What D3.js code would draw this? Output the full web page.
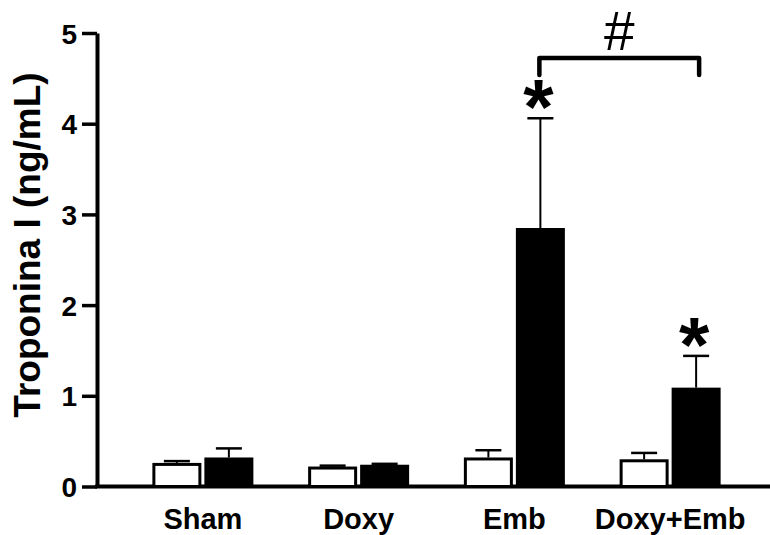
<!DOCTYPE html>
<html>
<head>
<meta charset="utf-8">
<script src="https://cdn.jsdelivr.net/npm/d3@7"></script>
<style>
  body { margin: 0; background: #fff; }
  svg { display: block; font-family: "Liberation Sans", Arial, sans-serif; }
  .axis text { font-weight: bold; fill: #000; font-family: "Liberation Sans", Arial, sans-serif; }
</style>
</head>
<body>
<script>
var width = 770,
    height = 535;

// data
var categories = ['Sham', 'Doxy', 'Emb', 'Doxy+Emb'];
var series = ['open', 'filled'];
var openMeans = [0.26, 0.22, 0.32, 0.30];
var openErrors = [0.02, 0.01, 0.08, 0.07];
var filledMeans = [0.32, 0.24, 2.85, 1.09];
var filledErrors = [0.10, 0.01, 1.21, 0.35];
var yTicks = [0, 1, 2, 3, 4, 5];
var starred = [{ cat: 'Emb', s: 'filled' }, { cat: 'Doxy+Emb', s: 'filled' }];
var bracket = { from: 'Emb', to: 'Doxy+Emb', label: '#' };

var rows = [];
categories.forEach(function(c, i) {
  rows.push({ cat: c, s: 'open', v: openMeans[i], e: openErrors[i] });
  rows.push({ cat: c, s: 'filled', v: filledMeans[i], e: filledErrors[i] });
});

var svg = d3.select('body').append('svg')
    .attr('width', width)
    .attr('height', height);

var axisX = 97;

var x = d3.scaleBand().domain(categories).range([125, 748]);
var xSub = d3.scaleBand().domain(series)
    .range([x.bandwidth() / 2 - 50.5, x.bandwidth() / 2 + 50.5])
    .paddingInner(3 / 52);
var y = d3.scaleLinear().domain([0, 5]).range([486.5, 33]);

// y axis
var yAxis = svg.append('g')
    .attr('class', 'axis')
    .attr('transform', 'translate(' + axisX + ',0)')
    .call(d3.axisLeft(y).tickValues(yTicks).tickFormat(d3.format('d'))
      .tickSize(15).tickSizeOuter(0).tickPadding(5));
yAxis.select('.domain').attr('stroke', '#000').attr('stroke-width', 4);
yAxis.selectAll('.tick line').attr('stroke', '#000').attr('stroke-width', 3.5);
yAxis.selectAll('.tick text').style('font-size', '28px').attr('dy', '0.36em');

// baseline
svg.append('line')
    .attr('x1', axisX - 2).attr('x2', width)
    .attr('y1', y(0)).attr('y2', y(0))
    .attr('stroke', '#000').attr('stroke-width', 4);

// x labels
var xAxis = svg.append('g')
    .attr('class', 'axis')
    .attr('transform', 'translate(0,' + y(0) + ')')
    .call(d3.axisBottom(x).tickSize(0).tickPadding(22));
xAxis.select('.domain').remove();
xAxis.selectAll('.tick text').style('font-size', '29px');

// y title
svg.append('text')
    .attr('transform', 'translate(40,245) rotate(-90)')
    .attr('text-anchor', 'middle')
    .style('font-size', '37px')
    .style('font-weight', 'bold')
    .text('Troponina I (ng/mL)');

function barX(d) { return x(d.cat) + xSub(d.s); }

// error bars (upward only)
var err = svg.selectAll('.err')
    .data(rows)
    .enter().append('g')
    .attr('class', 'err');
err.append('line')
    .attr('x1', function(d) { return barX(d) + xSub.bandwidth() / 2; })
    .attr('x2', function(d) { return barX(d) + xSub.bandwidth() / 2; })
    .attr('y1', function(d) { return y(d.v); })
    .attr('y2', function(d) { return y(d.v + d.e); })
    .attr('stroke', '#000').attr('stroke-width', 2);
err.append('line')
    .attr('x1', function(d) { return barX(d) + xSub.bandwidth() / 2 - 13; })
    .attr('x2', function(d) { return barX(d) + xSub.bandwidth() / 2 + 13; })
    .attr('y1', function(d) { return y(d.v + d.e); })
    .attr('y2', function(d) { return y(d.v + d.e); })
    .attr('stroke', '#000').attr('stroke-width', 2.5);

// bars
svg.selectAll('.bar')
    .data(rows)
    .enter().append('rect')
    .attr('class', 'bar')
    .attr('x', function(d) { return barX(d) + 1.5; })
    .attr('y', function(d) { return y(d.v) + 1.5; })
    .attr('width', xSub.bandwidth() - 3)
    .attr('height', function(d) { return y(0) - y(d.v) - 1.5; })
    .attr('fill', function(d) { return d.s === 'open' ? '#fff' : '#000'; })
    .attr('stroke', '#000')
    .attr('stroke-width', 3);

// asterisks
svg.selectAll('.star')
    .data(starred.map(function(s) {
      return rows.filter(function(r) { return r.cat === s.cat && r.s === s.s; })[0];
    }))
    .enter().append('text')
    .attr('class', 'star')
    .attr('x', function(d) { return barX(d) + xSub.bandwidth() / 2 - 2; })
    .attr('y', function(d) { return y(d.v + d.e) + 16; })
    .attr('text-anchor', 'middle')
    .style('font-size', '78px')
    .style('font-weight', 'bold')
    .text('*');

// significance bracket
var bx1 = x(bracket.from) + xSub('filled') + xSub.bandwidth() / 2 - 1,
    bx2 = x(bracket.to) + xSub('filled') + xSub.bandwidth() / 2 + 3,
    by = 58;
svg.append('path')
    .attr('d', 'M' + bx1 + ',' + (by + 17) + 'V' + by + 'H' + bx2 + 'V' + (by + 17))
    .attr('fill', 'none')
    .attr('stroke', '#000')
    .attr('stroke-width', 4.5)
    .attr('stroke-linecap', 'round')
    .attr('stroke-linejoin', 'round');
svg.append('text')
    .attr('x', (bx1 + bx2) / 2)
    .attr('y', 50)
    .attr('text-anchor', 'middle')
    .style('font-size', '55px')
    .text(bracket.label);
</script>
</body>
</html>
